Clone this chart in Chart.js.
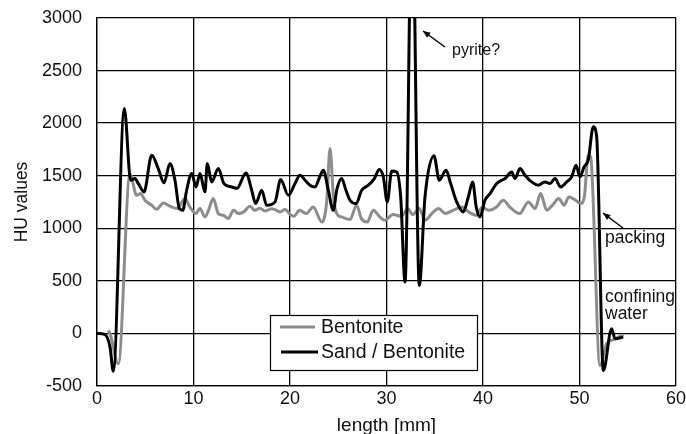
<!DOCTYPE html>
<html>
<head>
<meta charset="utf-8">
<script src="https://cdn.jsdelivr.net/npm/chart.js@4/dist/chart.umd.min.js"></script>
<style>
  html, body { margin: 0; padding: 0; background: #fff; }
  #wrap { width: 686px; height: 434px; }
</style>
</head>
<body>
<div id="wrap"><canvas id="huChart" width="686" height="434"></canvas></div>
<script>
// Bentonite (grey)
var lengthBento = [1.17, 1.35, 2.21, 3.42, 4.11, 4.5, 4.97, 5.67, 6.18, 6.87, 7.56, 8.32, 9.12, 9.64, 10.26, 10.67, 11.19, 11.55, 12.05, 12.57, 13.09, 13.6, 14.15, 14.67, 15.2, 15.85, 16.35, 16.9, 17.4, 18.1, 18.45, 18.97, 19.5, 20.0, 20.4, 21.0, 21.7, 22.4, 23.3, 23.8, 24.15, 24.5, 24.84, 25.35, 26.22, 26.9, 27.4, 28.0, 28.63, 29.3, 29.8, 30.7, 31.55, 32.2, 32.7, 33.4, 33.99, 34.7, 35.4, 36.1, 36.9, 37.8, 38.5, 39.3, 39.9, 40.6, 41.4, 42.1, 42.8, 43.8, 44.7, 45.4, 45.97, 46.6, 47.2, 47.85, 48.4, 48.9, 49.6, 50.1, 50.5, 50.9, 51.15, 52.12, 52.8, 53.5, 54.54];
var huBento = [29, 0, -289, 1514, 1314, 1330, 1267, 1219, 1181, 1241, 1210, 1188, 1283, 1200, 1140, 1188, 1108, 1170, 1283, 1140, 1124, 1092, 1172, 1140, 1156, 1210, 1171, 1190, 1165, 1185, 1178, 1156, 1178, 1134, 1114, 1171, 1140, 1203, 1060, 1250, 1759, 1300, 1140, 1108, 1083, 1219, 1092, 1060, 1171, 1108, 1076, 1130, 1114, 1188, 1130, 1188, 1076, 1140, 1188, 1140, 1171, 1203, 1156, 1124, 1200, 1172, 1203, 1267, 1200, 1140, 1251, 1188, 1330, 1172, 1220, 1283, 1219, 1298, 1267, 1235, 1298, 1695, 1680, -305, -98, -60, -10];

// Sand / Bentonite (black)
var lengthSand = [0, 0.8, 1.35, 1.69, 2.83, 3.49, 3.94, 4.28, 4.87, 5.67, 6.35, 6.94, 7.56, 8.08, 8.53, 8.88, 9.29, 9.81, 10.26, 10.67, 11.19, 11.43, 11.88, 12.57, 13.16, 13.96, 14.5, 15.44, 16.03, 16.44, 17.07, 17.58, 18.45, 19.03, 19.83, 20.52, 21.04, 21.56, 22.07, 22.59, 23.11, 23.45, 23.97, 24.49, 24.84, 25.35, 25.8, 26.22, 26.84, 27.43, 28.12, 28.74, 29.26, 29.67, 30.08, 30.54, 31.05, 31.47, 31.92, 32.65, 33.4, 33.99, 34.92, 35.47, 36.17, 36.65, 37.27, 37.96, 38.48, 38.93, 39.3, 39.69, 40.21, 40.73, 41.42, 41.94, 42.29, 42.97, 43.32, 43.83, 44.35, 45.04, 45.73, 46.42, 46.94, 47.46, 48.05, 48.67, 49.19, 49.64, 50.05, 50.47, 50.9, 51.43, 51.78, 52.47, 53.33, 53.68, 54.54];
var huSand = [0, -10, -130, -360, 2140, 1457, 1473, 1425, 1346, 1695, 1568, 1432, 1616, 1457, 1188, 1171, 1362, 1521, 1393, 1521, 1346, 1616, 1441, 1568, 1425, 1393, 1380, 1527, 1362, 1235, 1362, 1219, 1251, 1464, 1314, 1425, 1505, 1457, 1410, 1393, 1495, 1552, 1362, 1171, 1362, 1473, 1362, 1267, 1235, 1362, 1410, 1473, 1559, 1489, 1251, 1546, 1536, 1298, 489, 4200, 457, 1298, 1689, 1457, 1552, 1425, 1251, 1156, 1298, 1441, 1200, 1108, 1267, 1330, 1425, 1457, 1473, 1536, 1473, 1568, 1505, 1441, 1410, 1441, 1425, 1473, 1393, 1441, 1489, 1600, 1489, 1584, 1648, 1965, 1870, -352, 45, -50, -35];

var xTicks = [0, 10, 20, 30, 40, 50, 60];
var yTicks = [-500, 0, 500, 1000, 1500, 2000, 2500, 3000];

function toPoints(xs, ys) {
  return xs.map(function (x, i) { return { x: x, y: ys[i] }; });
}

var FONT = "'Liberation Sans', Arial, sans-serif";
var GREY = "#8c8c8c";

// legend box + text notes drawn on top of the lines
var notesPlugin = {
  id: "notes",
  afterDraw: function (chart) {
    var ctx = chart.ctx;
    ctx.save();
    // legend
    ctx.fillStyle = "#fff";
    ctx.fillRect(270, 315, 208, 56);
    ctx.strokeStyle = "#000";
    ctx.lineWidth = 1.2;
    ctx.strokeRect(270.5, 315.5, 207, 55);
    ctx.lineWidth = 3;
    ctx.strokeStyle = GREY;
    ctx.beginPath(); ctx.moveTo(280, 327); ctx.lineTo(315, 327); ctx.stroke();
    ctx.strokeStyle = "#000";
    ctx.beginPath(); ctx.moveTo(281, 352); ctx.lineTo(318, 352); ctx.stroke();
    ctx.fillStyle = "#111";
    ctx.font = "19.5px " + FONT;
    ctx.textBaseline = "middle";
    ctx.fillText("Bentonite", 321, 328);
    ctx.fillText("Sand / Bentonite", 321, 353);

    // annotations
    ctx.font = "16px " + FONT;
    ctx.fillText("pyrite?", 452, 51);
    ctx.font = "17.5px " + FONT;
    ctx.fillText("packing", 605, 238);
    ctx.fillText("confining", 605, 297);
    ctx.fillText("water", 605, 314);

    function arrow(x1, y1, x2, y2) {
      ctx.strokeStyle = "#000";
      ctx.fillStyle = "#000";
      ctx.lineWidth = 1.5;
      ctx.beginPath(); ctx.moveTo(x1, y1); ctx.lineTo(x2, y2); ctx.stroke();
      var a = Math.atan2(y2 - y1, x2 - x1);
      ctx.beginPath();
      ctx.moveTo(x2, y2);
      ctx.lineTo(x2 - 8 * Math.cos(a - 0.4), y2 - 8 * Math.sin(a - 0.4));
      ctx.lineTo(x2 - 8 * Math.cos(a + 0.4), y2 - 8 * Math.sin(a + 0.4));
      ctx.closePath();
      ctx.fill();
    }
    arrow(445, 47, 423, 31);
    arrow(623, 228, 603, 213);
    ctx.restore();
  }
};

var ctxHU = document.getElementById("huChart").getContext("2d");
var huChart = new Chart(ctxHU, {
  type: "line",
  data: {
    datasets: [
      {
        label: "Bentonite",
        data: toPoints(lengthBento, huBento),
        borderColor: GREY,
        borderWidth: 3,
        pointRadius: 0,
        cubicInterpolationMode: "monotone",
        order: 2,
      },
      {
        label: "Sand / Bentonite",
        data: toPoints(lengthSand, huSand),
        borderColor: "#000",
        borderWidth: 3,
        pointRadius: 0,
        cubicInterpolationMode: "monotone",
        order: 1,
      },
    ],
  },
  options: {
    responsive: false,
    animation: false,
    layout: { padding: { top: 18, right: 10, left: 0, bottom: 0 } },
    plugins: {
      legend: { display: false },
      tooltip: { enabled: false },
    },
    scales: {
      x: {
        type: "linear",
        min: 0,
        max: 60,
        afterBuildTicks: function (axis) { axis.ticks = xTicks.map(function (v) { return { value: v }; }); },
        afterFit: function (axis) { axis.height = 48; axis.paddingLeft = 0; axis.paddingRight = 0; },
        grid: { color: "#000", lineWidth: 1.3, drawTicks: false },
        border: { color: "#000", width: 1.3 },
        ticks: { color: "#111", font: { family: FONT, size: 18 }, padding: 2, maxRotation: 0, callback: function (v) { return String(v); } },
        title: { display: true, text: "length [mm]", color: "#111", font: { family: FONT, size: 19 }, padding: { top: 0, bottom: -3 } },
      },
      y: {
        min: -500,
        max: 3000,
        afterBuildTicks: function (axis) { axis.ticks = yTicks.map(function (v) { return { value: v }; }); },
        afterFit: function (axis) { axis.width = 97; axis.paddingTop = 0; axis.paddingBottom = 0; },
        grid: { color: "#000", lineWidth: 1.3, drawTicks: false },
        border: { color: "#000", width: 1.3 },
        ticks: { color: "#111", font: { family: FONT, size: 18 }, padding: 15, callback: function (v) { return String(v); } },
        title: { display: true, text: "HU values", color: "#111", font: { family: FONT, size: 17.5 }, padding: { top: 12, bottom: 0 } },
      },
    },
  },
  plugins: [notesPlugin],
});
</script>
</body>
</html>
